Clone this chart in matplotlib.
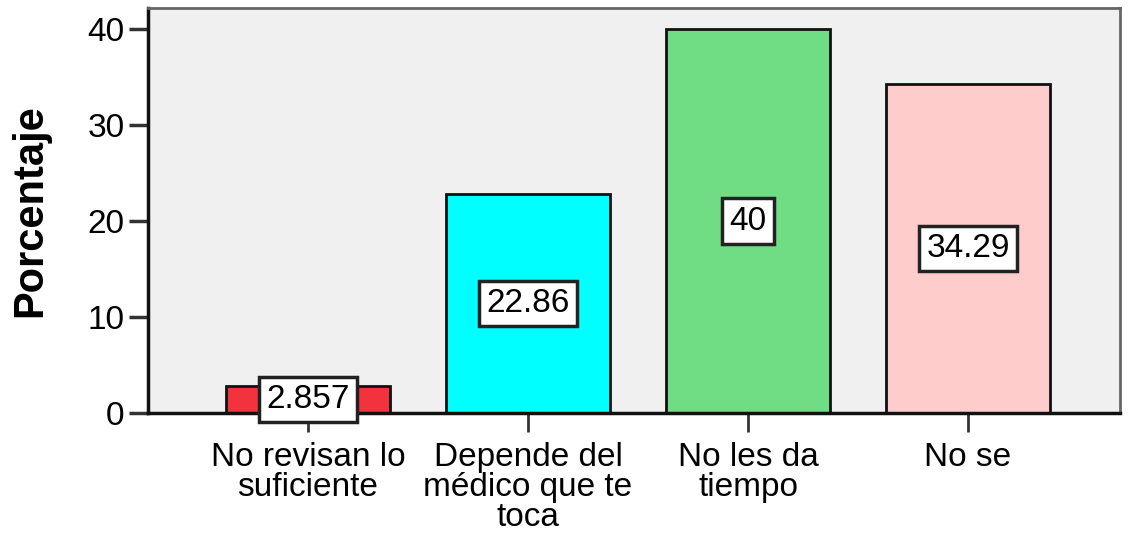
import numpy as np
import matplotlib.pyplot as plt

categories = ["No revisan lo\nsuficiente", "Depende del\nmédico que te\ntoca", "No les da\ntiempo", "No se"]
values = [2.857, 22.86, 40.0, 34.29]
value_labels = ["2.857", "22.86", "40", "34.29"]
colors = ["#f2323c", "#00ffff", "#70dd85", "#ffcccc"]
yticks = [0, 10, 20, 30, 40]

plt.rcParams['font.family'] = ['Liberation Sans', 'DejaVu Sans']

fig = plt.figure(figsize=(11.3, 5.33), dpi=100)
ax = fig.add_axes([0.131, 0.225, 0.86, 0.76])
ax.set_facecolor("#f0f0f0")

x = np.arange(len(categories))
ax.bar(x, values, width=0.745, color=colors, edgecolor="#111111", linewidth=2, zorder=2)

for xi, v, lab in zip(x, values, value_labels):
    ax.text(xi, v / 2, lab, ha="center", va="center", fontsize=24, zorder=3,
            bbox=dict(boxstyle="square,pad=0.22", facecolor="white", edgecolor="#222222", linewidth=2.5))

ax.set_xlim(-0.727, 3.69)
ax.set_ylim(0, 42.2)
ax.set_yticks(yticks)
ax.set_xticks(x)
ax.set_xticklabels(categories, fontsize=24, linespacing=0.95, va="top")
ax.tick_params(axis="x", length=14, width=2, color="#333333", pad=7)
ax.tick_params(axis="y", labelsize=24, length=14, width=2.5, color="#333333", pad=3)
ax.set_ylabel("Porcentaje", fontsize=30, fontweight="bold")
ax.yaxis.set_label_coords(-0.101, 0.5)

for side in ["left", "bottom"]:
    ax.spines[side].set_linewidth(2.5)
    ax.spines[side].set_color("#111111")
for side in ["top", "right"]:
    ax.spines[side].set_linewidth(2)
    ax.spines[side].set_color("#666666")

fig.savefig("out.png", dpi=100)
